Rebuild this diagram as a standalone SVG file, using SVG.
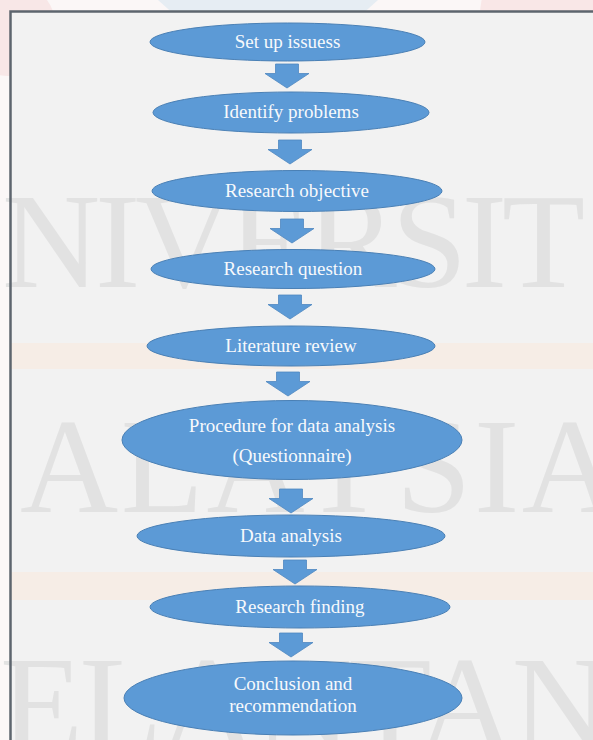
<svg xmlns="http://www.w3.org/2000/svg" width="593" height="740" viewBox="0 0 593 740">
<style>
.node ellipse{fill:#5c9ad6;stroke:#4a80b5;stroke-width:1}
.node text{font-family:"Liberation Serif","Times New Roman",serif;font-size:19px;fill:#f7f9fc;text-anchor:middle}
.wm{font-family:"Liberation Serif","Times New Roman",serif;font-size:136px;fill:#e2e2e2}
.arrow{fill:#5c9ad6;stroke:#4f88c0;stroke-width:0.8}
</style>
<defs>
<path id="arr" d="M-11.5,0 H11.5 V9.5 H22 L0,24 L-22,9.5 H-11.5 Z"/>
</defs>
<g id="background">
<rect x="0" y="0" width="593" height="740" fill="#fbf7f7"/>
<circle cx="8" cy="28" r="48" fill="#f8e7e7"/>
<circle cx="548" cy="15" r="68" fill="#f9e7e7"/>
<circle cx="268" cy="-112" r="157" fill="#e6edf3"/>
<rect x="10" y="11" width="583" height="729" fill="#f2f2f2"/>
<rect x="10" y="343" width="583" height="26" fill="#f6ede6"/>
<rect x="10" y="572" width="583" height="28" fill="#f6ede6"/>
<text class="wm" x="2" y="287" textLength="583" lengthAdjust="spacing">NIVERSIT</text>
<text class="wm" x="20" y="512" textLength="600" lengthAdjust="spacing">ALAYSIA</text>
<text class="wm" x="0" y="750" textLength="610" lengthAdjust="spacing">ELANTAN</text>
<path d="M10.5,740 V11.5 H593" fill="none" stroke="#5d656e" stroke-width="2.5"/>
</g>
<g id="connectors">
<use href="#arr" class="arrow" x="287" y="64"/>
<use href="#arr" class="arrow" x="290" y="140"/>
<use href="#arr" class="arrow" x="292" y="219"/>
<use href="#arr" class="arrow" x="290" y="295"/>
<use href="#arr" class="arrow" x="288" y="372"/>
<use href="#arr" class="arrow" x="291" y="489"/>
<use href="#arr" class="arrow" x="295" y="560"/>
<use href="#arr" class="arrow" x="291" y="633"/>
</g>
<g id="n1" class="node"><ellipse cx="287.5" cy="42" rx="137.5" ry="19"/><text x="287.5" y="48">Set up issuess</text></g>
<g id="n2" class="node"><ellipse cx="291" cy="112.5" rx="138" ry="20.5"/><text x="291" y="118">Identify problems</text></g>
<g id="n3" class="node"><ellipse cx="297" cy="191" rx="145" ry="20.5"/><text x="297" y="197">Research objective</text></g>
<g id="n4" class="node"><ellipse cx="293" cy="269" rx="142" ry="19.5"/><text x="293" y="275">Research question</text></g>
<g id="n5" class="node"><ellipse cx="291" cy="346" rx="144" ry="20"/><text x="291" y="352">Literature review</text></g>
<g id="n6" class="node"><ellipse cx="292" cy="440" rx="170" ry="39.5"/><text x="292" y="432">Procedure for data analysis</text><text x="292" y="462">(Questionnaire)</text></g>
<g id="n7" class="node"><ellipse cx="291" cy="536" rx="154" ry="21"/><text x="291" y="542">Data analysis</text></g>
<g id="n8" class="node"><ellipse cx="300" cy="607" rx="150" ry="21"/><text x="300" y="613">Research finding</text></g>
<g id="n9" class="node"><ellipse cx="293" cy="698" rx="169" ry="37"/><text x="293" y="690">Conclusion and</text><text x="293" y="712">recommendation</text></g>
</svg>
